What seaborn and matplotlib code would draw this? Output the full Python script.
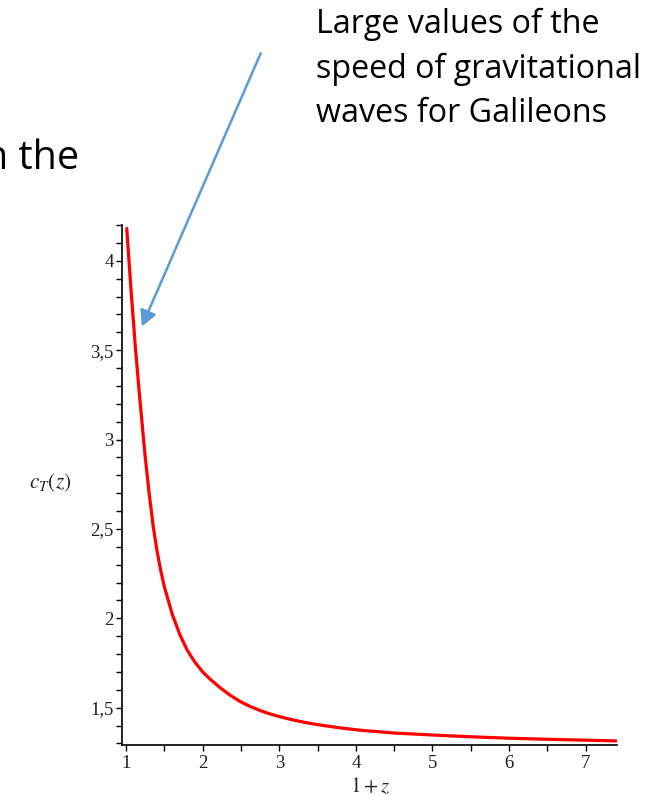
import numpy as np
import pandas as pd
import matplotlib
matplotlib.use("Agg")
import matplotlib.pyplot as plt
from matplotlib.ticker import MultipleLocator, FuncFormatter
import seaborn as sns

# Tensor-mode propagation speed c_T as a function of 1+z
one_plus_z = [1.008, 1.06, 1.118, 1.17, 1.22, 1.25, 1.30, 1.355, 1.40, 1.45,
              1.50, 1.60, 1.70, 1.80, 1.90, 2.00, 2.10, 2.16, 2.226, 2.356,
              2.487, 2.617, 2.748, 2.878, 3.009, 3.14, 3.27, 3.40, 3.53, 3.79,
              4.05, 4.5, 5.0, 5.5, 6.0, 6.5, 7.0, 7.4]
c_T = [4.18, 3.86, 3.53, 3.27, 3.035, 2.90, 2.70, 2.51, 2.385, 2.27,
       2.175, 2.025, 1.91, 1.82, 1.753, 1.70, 1.658, 1.636, 1.612, 1.57,
       1.535, 1.507, 1.484, 1.465, 1.449, 1.435, 1.423, 1.412, 1.403, 1.387,
       1.374, 1.358, 1.347, 1.337, 1.329, 1.323, 1.318, 1.314]

x_ticks = [1, 2, 3, 4, 5, 6, 7]
y_ticks = [1.5, 2.0, 2.5, 3.0, 3.5, 4.0]

note_lines = ["Large values of the", "speed of gravitational", "waves for Galileons"]
slide_fragment = "n the"

df = pd.DataFrame({"1+z": one_plus_z, "c_T": c_T})

sns.set_style("ticks")
plt.rcParams["mathtext.fontset"] = "stix"

W, H = 669, 795
fig = plt.figure(figsize=(W / 100, H / 100), dpi=100)
ax = fig.add_axes([122 / W, 1 - 745 / H, 495 / W, 520 / H])

sns.lineplot(data=df, x="1+z", y="c_T", ax=ax, color="#ff0000", linewidth=2.3,
             sort=False, estimator=None)

ax.set_xlim(0.946, 7.41)
ax.set_ylim(1.291, 4.20)
ax.set_xticks(x_ticks)
ax.set_yticks(y_ticks)
ax.xaxis.set_minor_locator(MultipleLocator(0.5))
ax.yaxis.set_minor_locator(MultipleLocator(0.1))

def comma_fmt(v, pos):
    return f"{v:g}".replace(".", ",")

ax.yaxis.set_major_formatter(FuncFormatter(comma_fmt))
ax.xaxis.set_major_formatter(FuncFormatter(comma_fmt))

for s in ["top", "right"]:
    ax.spines[s].set_visible(False)
for s in ["left", "bottom"]:
    ax.spines[s].set_color("black")
    ax.spines[s].set_linewidth(1.2)

ax.tick_params(which="both", direction="out", length=4, width=1.0, color="black",
               labelsize=13.5)
ax.tick_params(axis="x", pad=3.5)
ax.tick_params(axis="y", pad=2)
for lab in ax.get_xticklabels() + ax.get_yticklabels():
    lab.set_family("Liberation Serif")
    lab.set_color("#222222")

ax.set_xlabel("$1 + z$", fontsize=15)
ax.set_ylabel("$c_T(z)$", fontsize=15.5, rotation=0)
ax.yaxis.set_label_coords((50 - 122) / 495, (745 - 483) / 520)
ax.yaxis.label.set_va("center")
ax.yaxis.label.set_ha("center")
ax.xaxis.set_label_coords((370 - 122) / 495, (745 - 786) / 520)
ax.xaxis.label.set_va("center")
ax.grid(False)

# callout text and arrow
for i, line in enumerate(note_lines):
    fig.text(316 / W, 1 - (33 + 44.5 * i) / H, line, fontsize=23.2,
             family="Open Sans", color="black", ha="left", va="baseline")

fig.text(79 / W, 1 - 169 / H, slide_fragment, fontsize=28.5, family="Open Sans",
         color="black", ha="right", va="baseline")

ax.annotate("", xy=(1.204, 3.632), xycoords="data",
            xytext=(260.7, H - 53.3), textcoords="figure pixels",
            annotation_clip=False,
            arrowprops=dict(arrowstyle="-|>,head_length=0.95,head_width=0.5",
                            mutation_scale=10, lw=1.8, color="#5B9BD5",
                            shrinkA=0, shrinkB=0))

fig.savefig("out.png", dpi=100, facecolor="white")
